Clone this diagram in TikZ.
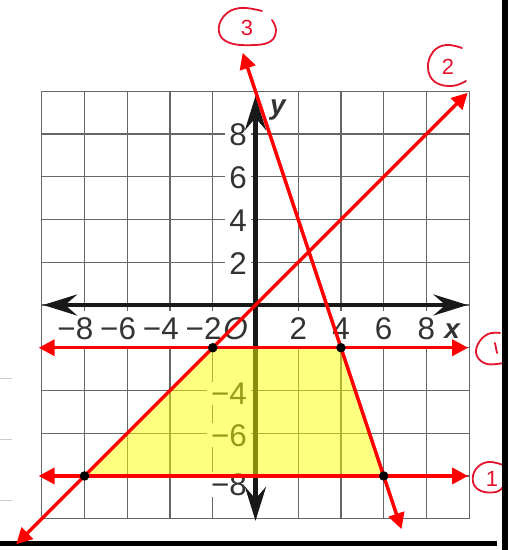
\documentclass[tikz,border=0pt]{standalone}
\usepackage{fontspec}
\setmainfont{Liberation Sans}
\usetikzlibrary{arrows.meta}
\definecolor{labgray}{HTML}{333333}
\definecolor{gridgray}{HTML}{666666}
\definecolor{penred}{HTML}{E3142C}
\definecolor{hlyellow}{HTML}{FFFF00}
\begin{document}
\begin{tikzpicture}[x=21.37bp,y=21.37bp,
  gridline/.style={draw=gridgray, line width=1.2bp},
  axisline/.style={line width=4.5bp, draw=black!90,
    {Stealth[length=34bp,width=21bp,inset=12bp]}-{Stealth[length=34bp,width=21bp,inset=12bp]}},
  redline/.style={draw=red, line width=3.5bp,
    {Triangle[length=16bp,width=16bp]}-{Triangle[length=16bp,width=16bp]}},
  xtick/.style={font=\fontsize{31.5}{31.5}\selectfont, text=labgray, fill=white,
    inner xsep=1bp, inner ysep=0bp, minimum height=36bp},
  ytick/.style={font=\fontsize{31.5}{31.5}\selectfont, text=labgray, fill=white,
    inner xsep=4bp, inner ysep=1bp, anchor=east},
  axlab/.style={font=\fontsize{28}{28}\selectfont\bfseries\itshape, text=labgray},
  dotnode/.style={circle, fill=black, inner sep=0pt, minimum size=9.5bp},
  hand/.style={draw=penred, line width=1.8bp, line cap=round, line join=round},
  handtxt/.style={text=penred, font=\fontsize{22}{22}\selectfont, inner sep=0pt},
  uimark/.style={draw=black!20, line width=0.8bp}
]
\useasboundingbox (-11.956,-11.465) rectangle (12.143,14.272);

% faint marks at the left edge
\draw[uimark] (-11.956,-3.42) -- (-11.39,-3.42);
\draw[uimark] (-11.956,-6.27) -- (-11.39,-6.27);
\draw[uimark] (-11.956,-9.13) -- (-11.39,-9.13);

% grid
\draw[gridline, step=2] (-10,-10) grid (10,10);

% tick labels
\foreach \v/\t in {-8/8,-6/6,-4/4,-2/2}
  \node[xtick] (xm\t) at (\v,-1.12) {\llap{−}\t};
\foreach \v in {2,4,6,8}
  \node[xtick] (xp\v) at (\v,-1.12) {\v};
\foreach \v in {2,4,6,8}
  \node[ytick] (yp\v) at (-0.21,\v-0.05) {\v};
\node[ytick] (ym4) at (-0.21,-4.15) {−4};
\node[ytick] (ym6) at (-0.21,-6.1) {−6};
\node[ytick] (ym8) at (-0.21,-8.4) {−8};
\node[font=\fontsize{31.5}{31.5}\selectfont\itshape, text=labgray, fill=white, inner sep=0.5bp] (orig) at (-0.93,-1.1) {O};
\node[axlab] (xlab) at (9.2,-1.2) {x};
\node[axlab] (ylab) at (1.05,9.1) {y};

% axes
\coordinate (xL) at (-9.94,0);
\coordinate (xR) at (9.92,0);
\coordinate (yB) at (0,-10.1);
\coordinate (yT) at (0,9.78);
\draw[axisline] (xL) -- (xR);
\draw[axisline] (yB) -- (yT);

% vertices of the region
\coordinate (A) at (-2,-2);
\coordinate (B) at (4,-2);
\coordinate (C) at (6,-8);
\coordinate (D) at (-8,-8);
\fill[hlyellow, fill opacity=0.5] (A) -- (B) -- (C) -- (D) -- cycle;

% frame bottom bar
\fill[black] (-11.956,-11.04) rectangle (11.3,-11.28);

% red lines
\coordinate (h1l) at (-10.15,-2);
\coordinate (h1r) at (9.95,-2);
\coordinate (h2l) at (-10.15,-8);
\coordinate (h2r) at (9.95,-8);
\coordinate (l2a) at (-11.2,-11.2);
\coordinate (l2b) at (9.93,9.93);
\coordinate (l3a) at (-0.6,11.8);
\coordinate (l3b) at (6.83,-10.49);
\draw[redline] (h1l) -- (h1r);
\draw[redline] (h2l) -- (h2r);
\draw[redline] (l2a) -- (l2b);
\draw[redline] (l3a) -- (l3b);

% intersection dots
\node[dotnode] (dA) at (A) {};
\node[dotnode] (dB) at (B) {};
\node[dotnode] (dC) at (C) {};
\node[dotnode] (dD) at (D) {};

% handwritten labels (pixel coordinates)
\begin{scope}[shift={(-11.956,14.272)}, x=1bp, y=-1bp]
  \draw[hand] plot[smooth, tension=0.7] coordinates {(262,11) (240,8) (224,16) (219,32) (230,43) (255,45) (271,41) (276,30) (272,20)};
  \node[handtxt] (c3) at (247,28) {3};
  \draw[hand] plot[smooth, tension=0.7] coordinates {(462,48) (446,45) (433,52) (428,68) (435,82) (452,86) (466,81)};
  \node[handtxt] (c2) at (448,67) {2};
  \draw[hand] plot[smooth, tension=0.7] coordinates {(500,333) (488,334) (478,344) (477,356) (487,364) (503,363)};
  \draw[hand] (495,343) -- (497,353);
  \draw[hand] plot[smooth, tension=0.7] coordinates {(503,465) (488,462) (476,469) (473,482) (481,491) (496,492) (503,487)};
  \node[handtxt] (c1) at (492,479) {1};
\end{scope}

% frame right bar
\fill[black] (11.54,-11.465) rectangle (11.82,14.272);
\end{tikzpicture}
\end{document}
